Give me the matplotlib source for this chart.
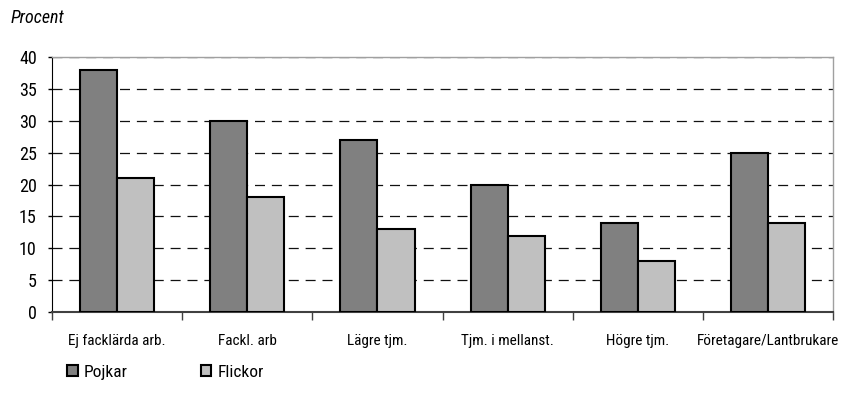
import matplotlib
matplotlib.use("Agg")
import matplotlib.pyplot as plt
from matplotlib import font_manager
import numpy as np

categories = ["Ej facklärda arb.", "Fackl. arb", "Lägre tjm.", "Tjm. i mellanst.", "Högre tjm.", "Företagare/Lantbrukare"]
pojkar = [38, 30, 27, 20, 14, 25]
flickor = [21, 18, 13, 12, 8, 14]
yticks = [0, 5, 10, 15, 20, 25, 30, 35, 40]

names = {f.name for f in font_manager.fontManager.ttflist}
cond = [n for n in ['Liberation Sans Narrow', 'Roboto Condensed', 'Open Sans Condensed', 'DejaVu Sans'] if n in names]
plt.rcParams['font.family'] = cond + ['DejaVu Sans']
plt.rcParams['font.stretch'] = 'condensed'

fig = plt.figure(figsize=(8.51, 4.05), dpi=100)
ax = fig.add_axes([0.0611, 0.2296, 0.979 - 0.0611, 0.859 - 0.2296])

x = np.arange(len(categories))
w = 0.285
b1 = ax.bar(x - w/2, pojkar, w, color='#808080', edgecolor='black', linewidth=1.5, label='Pojkar', zorder=3)
b2 = ax.bar(x + w/2, flickor, w, color='#c0c0c0', edgecolor='black', linewidth=1.5, label='Flickor', zorder=3)

ax.set_xlim(-0.5, len(categories) - 0.5)
ax.set_ylim(0, 40)
ax.set_yticks(yticks)
ax.set_yticklabels([str(v) for v in yticks], fontsize=13)
for v in yticks[1:]:
    ax.axhline(v, color='#111111', linestyle=(0, (8, 5.5)), linewidth=0.9, zorder=1)

ax.set_xticks(x)
ax.set_xticklabels(categories, fontsize=11)
ax.tick_params(axis='x', length=0, pad=16)
ax.set_xticks(np.arange(len(categories) + 1) - 0.5, minor=True)
ax.tick_params(axis='x', which='minor', length=6, width=1, color='#404040', direction='out')
ax.tick_params(axis='y', length=3, width=1, direction='out', pad=8)

for s in ['top', 'right']:
    ax.spines[s].set_color('#a0a0a0')
    ax.spines[s].set_linewidth(1)
ax.spines['left'].set_color('black')
ax.spines['bottom'].set_color('#404040')
ax.spines['bottom'].set_linewidth(1.5)

fig.text(0.013, 0.955, 'Procent', fontsize=13, style='italic', va='center', ha='left')

leg = fig.legend(handles=[b1, b2], labels=['Pojkar', 'Flickor'], loc='center left',
                 bbox_to_anchor=(0.079, 0.080), ncol=2, frameon=False, fontsize=12.5,
                 handlelength=0.6, handleheight=0.6, handletextpad=0.35, columnspacing=4.2,
                 borderpad=0, borderaxespad=0)

fig.savefig('out.png', dpi=100)
